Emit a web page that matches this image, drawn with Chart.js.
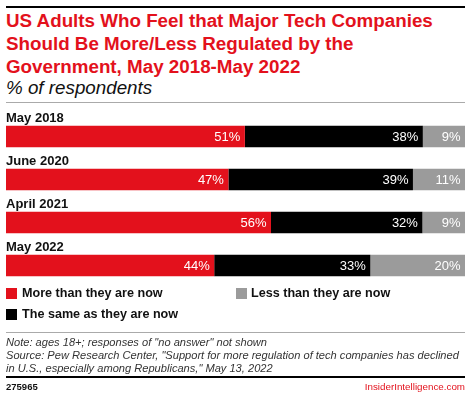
<!DOCTYPE html>
<html>
<head>
<meta charset="utf-8">
<script src="https://cdn.jsdelivr.net/npm/chart.js"></script>
<style>
  html, body { margin: 0; padding: 0; background: #fff; }
  body { width: 470px; height: 396px; position: relative; overflow: hidden; font-family: "Liberation Sans", Arial, sans-serif; }
  .abs { position: absolute; white-space: nowrap; }
  .rule { position: absolute; left: 6px; width: 459px; }
  #title { left: 6px; top: 10.3px; font-size: 18.8px; line-height: 22.7px; font-weight: bold; color: #e3111c; }
  #subtitle { left: 6px; top: 78px; font-size: 18.8px; line-height: 20px; font-style: italic; color: #111; }
  .leg { position: absolute; font-size: 12.6px; font-weight: bold; color: #111; line-height: 13px; }
  .sw { position: absolute; width: 11px; height: 11px; }
  #notes { left: 6px; top: 335.7px; font-size: 11.1px; line-height: 13px; font-style: italic; color: #333; }
  #chartWrap { position: absolute; left: 0; top: 105px; width: 470px; height: 185px; }
</style>
</head>
<body>
<div class="rule" style="top:6px;height:2px;background:#000"></div>
<div id="title" class="abs">US Adults Who Feel that Major Tech Companies<br>Should Be More/Less Regulated by the<br>Government, May 2018-May 2022</div>
<div id="subtitle" class="abs">% of respondents</div>
<div class="rule" style="top:102px;height:1px;background:#aaa"></div>

<div id="chartWrap"><canvas id="chart" width="470" height="185"></canvas></div>

<div class="sw" style="left:6px;top:288px;background:#e3111c"></div>
<div class="leg" style="left:22px;top:287px">More than they are now</div>
<div class="sw" style="left:236px;top:288px;background:#9b9b9b"></div>
<div class="leg" style="left:251px;top:287px">Less than they are now</div>
<div class="sw" style="left:6px;top:309px;background:#000"></div>
<div class="leg" style="left:22px;top:308px">The same as they are now</div>

<div class="rule" style="top:332px;height:1px;background:#aaa"></div>
<div id="notes" class="abs">Note: ages 18+; responses of "no answer" not shown<br>Source: Pew Research Center, "Support for more regulation of tech companies has declined<br>in U.S., especially among Republicans," May 13, 2022</div>
<div class="rule" style="top:376px;height:2px;background:#000"></div>
<div class="abs" style="left:6px;top:381px;font-size:9.5px;font-weight:bold;color:#111;line-height:12px">275965</div>
<div class="abs" style="right:5px;top:381px;font-size:9.8px;color:#e3111c;line-height:12px">InsiderIntelligence.com</div>

<script>
// survey rounds
const categories = ["May 2018", "June 2020", "April 2021", "May 2022"];
const seriesNames = ["More than they are now", "The same as they are now", "Less than they are now"];
const moreValues = [51, 47, 56, 44];
const sameValues = [38, 39, 32, 33];
const lessValues = [9, 11, 9, 20];
const colors = ["#e3111c", "#000000", "#9b9b9b"];

const raw = [moreValues, sameValues, lessValues];
// bars fill the full width, so scale each row by its own total
const totals = categories.map((c, i) => raw.reduce((s, arr) => s + arr[i], 0));
const shares = raw.map(arr => arr.map((v, i) => v / totals[i] * 100));

const labelPlugin = {
    id: "barLabels",
    afterDatasetsDraw(chart) {
        const ctx = chart.ctx;
        ctx.save();
        // values inside segments
        ctx.font = "13px 'Liberation Sans', Arial, sans-serif";
        ctx.fillStyle = "#fff";
        ctx.textAlign = "right";
        ctx.textBaseline = "middle";
        chart.data.datasets.forEach((ds, di) => {
            chart.getDatasetMeta(di).data.forEach((bar, i) => {
                ctx.fillText(raw[di][i] + "%", bar.x - 4.5, bar.y + 0.5);
            });
        });
        // category names above each bar
        ctx.font = "bold 13px 'Liberation Sans', Arial, sans-serif";
        ctx.fillStyle = "#111";
        ctx.textAlign = "left";
        ctx.textBaseline = "alphabetic";
        chart.getDatasetMeta(0).data.forEach((bar, i) => {
            ctx.fillText(categories[i], chart.chartArea.left, bar.y - bar.height / 2 - 4);
        });
        ctx.restore();
    }
};

new Chart(document.getElementById("chart"), {
    type: "bar",
    data: {
        labels: categories,
        datasets: seriesNames.map((name, i) => ({
            label: name,
            data: shares[i],
            backgroundColor: colors[i],
            borderWidth: 0,
            barPercentage: 0.5,
            categoryPercentage: 1.0
        }))
    },
    options: {
        indexAxis: "y",
        responsive: false,
        animation: false,
        layout: { padding: { left: 6, right: 5, top: 10, bottom: 3 } },
        plugins: { legend: { display: false }, tooltip: { enabled: false } },
        scales: {
            x: { stacked: true, min: 0, max: 100, display: false },
            y: { stacked: true, display: false }
        }
    },
    plugins: [labelPlugin]
});
</script>
</body>
</html>
